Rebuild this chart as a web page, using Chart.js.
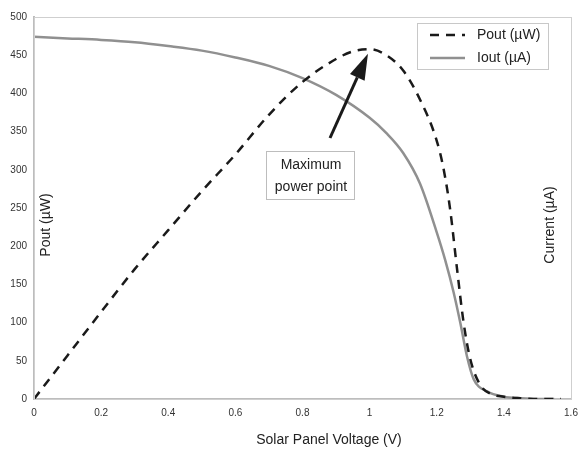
<!DOCTYPE html>
<html>
<head>
<meta charset="utf-8">
<script src="https://cdn.jsdelivr.net/npm/chart.js@4/dist/chart.umd.min.js"></script>
<style>
  html, body { margin: 0; padding: 0; background: #fff; }
  #wrap { width: 578px; height: 450px; }
</style>
</head>
<body>
<div id="wrap"><canvas id="myChart" width="578" height="450"></canvas></div>
<script>
// Pout (µW) vs solar panel voltage (V)
const poutVolts = [0, 0.1, 0.2, 0.3, 0.4, 0.5, 0.6, 0.7, 0.8, 0.9, 0.95, 1.0, 1.05, 1.1, 1.15, 1.2, 1.22, 1.24, 1.26, 1.28, 1.3, 1.33, 1.36, 1.4, 1.45, 1.5, 1.57]
const poutValues = [0, 57, 114, 170, 221, 272, 320, 372, 415, 445, 455, 458, 450, 430, 392, 338, 302, 248, 172, 100, 52, 18, 7, 3, 1, 0, 0]

// Iout (µA) vs solar panel voltage (V)
const ioutVolts = [0, 0.1, 0.2, 0.3, 0.4, 0.5, 0.6, 0.7, 0.8, 0.9, 1.0, 1.05, 1.1, 1.15, 1.2, 1.225, 1.25, 1.27, 1.29, 1.31, 1.35, 1.4, 1.45, 1.5, 1.55]
const ioutValues = [474, 472, 470, 467, 462, 456, 447, 436, 420, 398, 368, 348, 322, 282, 218, 182, 140, 100, 56, 26, 10, 3, 1, 0, 0]

const xTicks = [0, 0.2, 0.4, 0.6, 0.8, 1, 1.2, 1.4, 1.6]
const yTicks = [0, 50, 100, 150, 200, 250, 300, 350, 400, 450, 500]

const mppVolt = 0.995
const mppPower = 452

const toPoints = (xs, ys) => xs.map((x, i) => ({ x: x, y: ys[i] }))

const FONT = 'Arial, "Liberation Sans", sans-serif'

const decorations = {
  id: 'decorations',
  afterDraw(chart) {
    const { ctx, chartArea: a, scales } = chart
    ctx.save()

    // light frame round the plot
    ctx.strokeStyle = '#cfcfcf'
    ctx.lineWidth = 1
    ctx.strokeRect(a.left + 0.5, a.top + 0.5, a.right - a.left, a.bottom - a.top)

    // axis titles
    ctx.fillStyle = '#222'
    ctx.font = '14px ' + FONT
    ctx.textAlign = 'center'
    ctx.textBaseline = 'middle'
    ctx.fillText('Solar Panel Voltage (V)', 329, 440)

    ctx.save()
    ctx.translate(46, 225)
    ctx.rotate(-Math.PI / 2)
    ctx.fillText('Pout (µW)', 0, 0)
    ctx.restore()

    ctx.save()
    ctx.translate(550, 225)
    ctx.rotate(-Math.PI / 2)
    ctx.fillText('Current (µA)', 0, 0)
    ctx.restore()

    // legend
    ctx.strokeStyle = '#c8c8c8'
    ctx.lineWidth = 1
    ctx.fillStyle = '#fff'
    ctx.fillRect(417.5, 23.5, 131, 46)
    ctx.strokeRect(417.5, 23.5, 131, 46)

    ctx.lineWidth = 2.5
    ctx.strokeStyle = '#1a1a1a'
    ctx.setLineDash([9, 7])
    ctx.beginPath()
    ctx.moveTo(430, 35)
    ctx.lineTo(465, 35)
    ctx.stroke()
    ctx.setLineDash([])
    ctx.strokeStyle = '#909090'
    ctx.beginPath()
    ctx.moveTo(430, 58)
    ctx.lineTo(465, 58)
    ctx.stroke()

    ctx.fillStyle = '#222'
    ctx.textAlign = 'left'
    ctx.fillText('Pout (µW)', 477, 35)
    ctx.fillText('Iout (µA)', 477, 58)

    // annotation box
    ctx.strokeStyle = '#bdbdbd'
    ctx.lineWidth = 1
    ctx.fillStyle = '#fff'
    ctx.fillRect(266.5, 151.5, 88, 48)
    ctx.strokeRect(266.5, 151.5, 88, 48)
    ctx.fillStyle = '#222'
    ctx.textAlign = 'center'
    ctx.fillText('Maximum', 311, 165)
    ctx.fillText('power point', 311, 187)

    // arrow to the maximum power point
    const tipX = scales.x.getPixelForValue(mppVolt)
    const tipY = scales.y.getPixelForValue(mppPower)
    const tailX = 330, tailY = 138
    const ang = Math.atan2(tipY - tailY, tipX - tailX)
    const headLen = 26, headW = 8
    const bx = tipX - headLen * Math.cos(ang)
    const by = tipY - headLen * Math.sin(ang)
    ctx.strokeStyle = '#1a1a1a'
    ctx.fillStyle = '#1a1a1a'
    ctx.lineWidth = 3
    ctx.beginPath()
    ctx.moveTo(tailX, tailY)
    ctx.lineTo(bx, by)
    ctx.stroke()
    ctx.beginPath()
    ctx.moveTo(tipX, tipY)
    ctx.lineTo(bx + headW * Math.sin(ang), by - headW * Math.cos(ang))
    ctx.lineTo(bx - headW * Math.sin(ang), by + headW * Math.cos(ang))
    ctx.closePath()
    ctx.fill()

    ctx.restore()
  }
}

const ctx = document.getElementById('myChart')
const myChart = new Chart(ctx, {
  type: 'scatter',
  data: {
    datasets: [{
      label: 'Pout (µW)',
      data: toPoints(poutVolts, poutValues),
      showLine: true,
      borderColor: '#1a1a1a',
      borderWidth: 2.5,
      borderDash: [9, 7],
      pointRadius: 0,
      cubicInterpolationMode: 'monotone',
      order: 1
    }, {
      label: 'Iout (µA)',
      data: toPoints(ioutVolts, ioutValues),
      showLine: true,
      borderColor: '#909090',
      borderWidth: 2.5,
      pointRadius: 0,
      cubicInterpolationMode: 'monotone',
      order: 2
    }]
  },
  options: {
    responsive: false,
    animation: false,
    layout: { padding: { top: 17, right: 7, left: 0, bottom: 0 } },
    plugins: {
      legend: { display: false },
      tooltip: { enabled: false }
    },
    scales: {
      x: {
        type: 'linear',
        min: 0,
        max: 1.6,
        afterBuildTicks: (scale) => { scale.ticks = xTicks.map(v => ({ value: v })) },
        afterFit: (scale) => {
          scale.height = 51
          scale.paddingLeft = 0
          scale.paddingRight = 0
        },
        grid: { display: false, drawTicks: false },
        border: { color: '#bdbdbd', width: 2 },
        ticks: {
          color: '#333',
          font: { size: 10, family: FONT },
          padding: 8,
          maxRotation: 0,
          callback: (v) => String(Math.round(v * 10) / 10)
        }
      },
      y: {
        min: 0,
        max: 500,
        afterBuildTicks: (scale) => { scale.ticks = yTicks.map(v => ({ value: v })) },
        afterFit: (scale) => {
          scale.width = 34
          scale.paddingTop = 0
          scale.paddingBottom = 0
        },
        grid: { display: false, drawTicks: false },
        border: { color: '#bdbdbd', width: 2 },
        ticks: {
          color: '#333',
          font: { size: 10, family: FONT },
          padding: 7
        }
      }
    }
  },
  plugins: [decorations]
})
</script>
</body>
</html>
